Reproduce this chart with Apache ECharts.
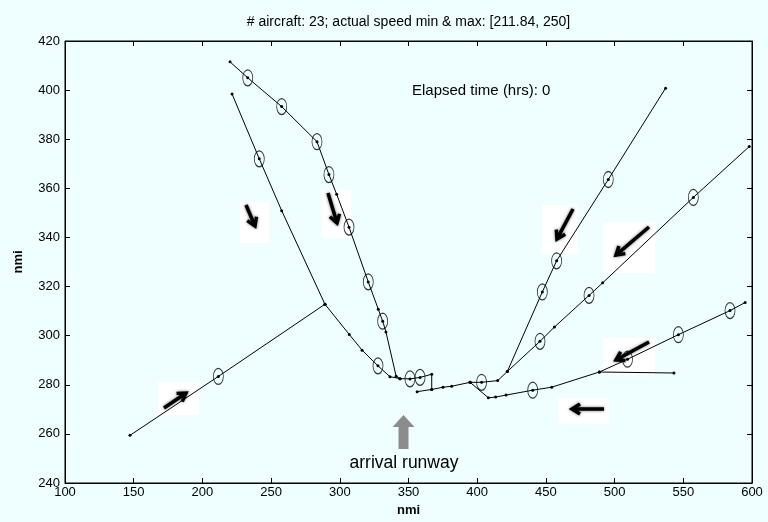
<!DOCTYPE html>
<html><head><meta charset="utf-8">
<script src="https://cdn.jsdelivr.net/npm/echarts@6/dist/echarts.min.js"></script>
<style>html,body{margin:0;padding:0;background:#EFFFFF}#c{width:768px;height:522px}</style>
</head><body><div id="c"></div>
<script>
// ---- data (nmi) ----
const xTicks = [100,150,200,250,300,350,400,450,500,550,600];
const yTicks = [240,260,280,300,320,340,360,380,400,420];
const trackA = [[220.1,411.5],[233.0,405.0],[257.7,393.3],[283.4,379.0],[292.1,365.6],[297.7,357.6],[306.7,344.2],[320.7,321.9],[328.0,310.8],[331.2,305.9],[333.6,301.5],[341.0,283.5],[343.8,282.5]];
const trackB = [[221.6,398.4],[241.4,372.0],[257.7,350.9],[289.2,312.8],[306.9,300.5],[316.2,294.1],[327.8,287.7],[336.5,283.3],[343.8,282.5],[351.1,282.4],[358.4,283.0],[366.9,284.3],[366.9,278.1]];
const trackF = [[147.3,259.4],[211.6,283.4],[289.2,312.8]];
const trackFinal = [[394.8,281.0],[381.4,279.4],[375.1,279.0],[366.9,278.1],[356.3,277.2]];
const trackC = [[537.1,400.8],[495.4,363.6],[457.8,330.5],[447.4,317.8],[421.9,285.4],[414.9,281.7],[403.2,281.0],[394.8,281.0]];
const trackD = [[598.0,377.0],[557.3,356.3],[491.3,321.5],[481.4,316.4],[456.2,303.5],[445.7,297.7],[421.9,285.4]];
const trackE = [[595.0,313.5],[584.0,310.2],[546.4,300.4],[509.4,290.4],[488.9,285.2],[454.2,279.0],[440.4,277.8],[421.0,275.8],[413.4,275.0],[408.1,274.7],[394.8,281.0]];
const trackG = [[543.2,284.8],[488.9,285.2]];
const aircraft = [[233.0,405.0],[257.7,393.3],[283.4,379.0],[292.1,365.6],[306.7,344.2],[320.7,321.9],[331.2,305.9],
  [241.4,372.0],[327.8,287.7],[351.1,282.4],[358.4,283.0],[211.6,283.4],
  [495.4,363.6],[457.8,330.5],[447.4,317.8],[557.3,356.3],[481.4,316.4],[445.7,297.7],
  [403.2,281.0],[584.0,310.2],[546.4,300.4],[509.4,290.4],[440.4,277.8]];
const titleText = '# aircraft: 23; actual speed min & max: [211.84, 250]';
const elapsedText = 'Elapsed time (hrs): 0';
const runwayText = 'arrival runway';

const FONT = '"Liberation Sans", Arial, Helvetica, sans-serif';
const chart = echarts.init(document.getElementById('c'));
const tracks = [trackA, trackB, trackF, trackFinal, trackC, trackD, trackE, trackG];
const lineSeries = tracks.map(t => ({
  type:'line', data:t, symbol:'circle', symbolSize:3, showSymbol:true,
  lineStyle:{color:'#000', width:1}, itemStyle:{color:'#000'}, silent:true, animation:false, z:3
}));
const ELLIPSE = 'path://M5,0A5,8,0,1,1,5,16A5,8,0,1,1,5,0Z';
function arrowGraphic(box, from, to){
  const dx = to[0]-from[0], dy = to[1]-from[1];
  const L = Math.hypot(dx,dy), ux = dx/L, uy = dy/L;
  const hl = 8, hw = 5;
  const bx = to[0]-ux*hl, by = to[1]-uy*hl;
  return [
    {type:'rect', shape:{x:box[0],y:box[1],width:box[2]-box[0],height:box[3]-box[1]}, style:{fill:'#ffffff'}, z:1},
    {type:'polyline', shape:{points:[[from[0],from[1]],[to[0]-ux*3,to[1]-uy*3]]}, style:{stroke:'#000',lineWidth:3.5,shadowBlur:3,shadowColor:'rgba(0,0,0,0.6)'}, z:2},
    {type:'polyline', shape:{points:[[bx-uy*hw,by+ux*hw],[to[0],to[1]],[bx+uy*hw,by-ux*hw]]}, style:{stroke:'#000',lineWidth:3.5,fill:null,shadowBlur:3,shadowColor:'rgba(0,0,0,0.6)'}, z:2}
  ];
}
const graphics = [].concat(
  arrowGraphic([158,382,199,415],[164,408],[186,393]),
  arrowGraphic([240,202,269,243],[246,205],[255,226]),
  arrowGraphic([322,190,351,238],[328,193],[337,223]),
  arrowGraphic([542,205,578,254],[573,209],[557,239]),
  arrowGraphic([603,222,655,273],[649,227],[616,255]),
  arrowGraphic([603,338,655,375],[649,342],[616,360]),
  arrowGraphic([558,398,609,424],[604,409],[572,409]),
  [
    {type:'polygon', shape:{points:[[403.5,415],[392.5,427],[398.5,427],[398.5,449],[408.5,449],[408.5,427],[414.5,427]]}, style:{fill:'#8c8c8c'}, z:2},
    {type:'text', x:404, y:463, style:{text:runwayText, font:'17.5px '+FONT, fill:'#000', align:'center', verticalAlign:'middle'}, z:2},
    {type:'text', x:412, y:91, style:{text:elapsedText, font:'15px '+FONT, fill:'#000', align:'left', verticalAlign:'middle'}, z:2},
    {type:'text', x:408.5, y:22, style:{text:titleText, font:'14px '+FONT, fill:'#000', align:'center', verticalAlign:'middle'}, z:2}
  ]
);
const axisCommon = {
  axisLine:{show:true, lineStyle:{color:'#000', width:1}},
  axisTick:{show:true, inside:true, length:5, lineStyle:{color:'#000'}},
  splitLine:{show:false}
};
chart.setOption({
  backgroundColor:'#EFFFFF',
  animation:false,
  textStyle:{fontFamily:FONT},
  grid:{left:65, right:16, top:41, bottom:32, show:true, borderColor:'#000', borderWidth:1, backgroundColor:'#EFFFFF'},
  xAxis:[
    Object.assign({type:'value', min:xTicks[0], max:xTicks[xTicks.length-1], interval:50, position:'bottom',
      name:'nmi', nameLocation:'middle', nameGap:21, nameTextStyle:{fontWeight:'bold', fontSize:13, color:'#000'},
      axisLabel:{color:'#000', fontSize:13, margin:3, formatter:v=>xTicks.includes(v)?String(v):''}}, axisCommon),
    Object.assign({type:'value', min:xTicks[0], max:xTicks[xTicks.length-1], interval:50, position:'top', axisLabel:{show:false}}, axisCommon)
  ],
  yAxis:[
    Object.assign({type:'value', min:yTicks[0], max:yTicks[yTicks.length-1], interval:20, position:'left',
      name:'nmi', nameLocation:'middle', nameGap:40, nameRotate:90, nameTextStyle:{fontWeight:'bold', fontSize:13, color:'#000'},
      axisLabel:{color:'#000', fontSize:13, margin:5, formatter:v=>yTicks.includes(v)?String(v):''}}, axisCommon),
    Object.assign({type:'value', min:yTicks[0], max:yTicks[yTicks.length-1], interval:20, position:'right', axisLabel:{show:false}}, axisCommon)
  ],
  series: lineSeries.concat([{
    type:'scatter', data:aircraft, symbol:ELLIPSE, symbolSize:[10,16], symbolKeepAspect:false,
    itemStyle:{color:'rgba(0,0,0,0)', borderColor:'#000', borderWidth:1}, silent:true, z:4
  }]),
  graphic: graphics
});
</script></body></html>
